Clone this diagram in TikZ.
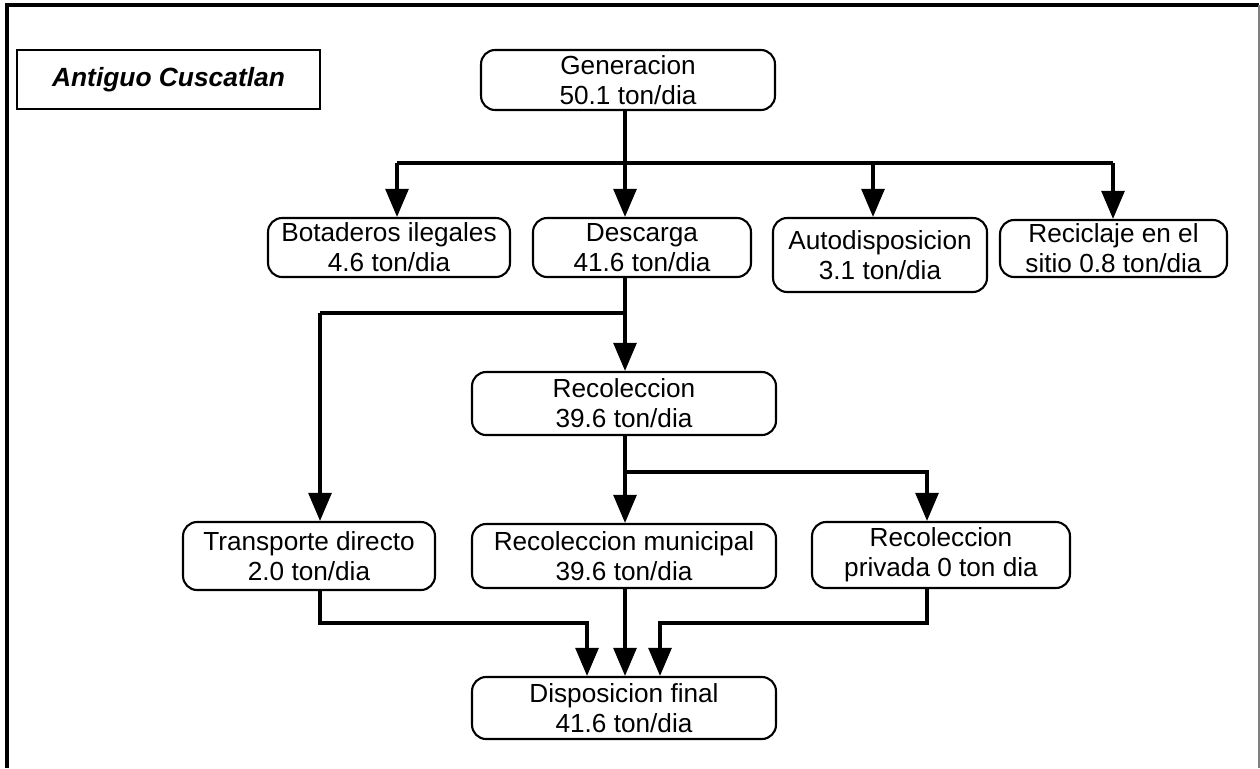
\documentclass[tikz,border=0pt]{standalone}
\usepackage{fontspec}
\setmainfont{Liberation Sans}
\usetikzlibrary{arrows.meta}

\begin{document}
\begin{tikzpicture}[x=0.02cm, y=-0.02cm, font=\fontsize{14.9}{17}\selectfont,
    blk/.style={draw, line width=1.2pt, rounded corners=8pt, inner sep=0pt, align=center},
    flow/.style={line width=2pt, -{Triangle[length=16pt, width=13pt]}},
    link/.style={line width=2pt}]
    \useasboundingbox (0,0) rectangle (1260,768);
    % frame
    \draw[line width=1.8pt] (7,768) -- (7,5) -- (1259,5);
    \draw[gray, line width=0.8pt] (1259,5) -- (1259,768);
    % title
    \node[draw, line width=1.2pt, minimum width=6.06cm, minimum height=1.18cm,
      font=\fontsize{15}{17}\selectfont\bfseries\itshape] (ttl) at (168.5,79.5) {Antiguo Cuscatlan};
    % boxes
    \node[blk, minimum width=5.88cm, minimum height=1.2cm] (gen) at (628,80) {Generacion\\50.1 ton/dia};
    \node[blk, minimum width=4.84cm, minimum height=1.18cm] (bot) at (389,247.5) {Botaderos ilegales\\4.6 ton/dia};
    \node[blk, minimum width=4.36cm, minimum height=1.18cm] (des) at (642,247.5) {Descarga\\41.6 ton/dia};
    \node[blk, minimum width=4.28cm, minimum height=1.48cm] (aut) at (880,255) {Autodisposicion\\3.1 ton/dia};
    \node[blk, minimum width=4.54cm, minimum height=1.14cm] (rcl) at (1113.5,248.5) {Reciclaje en el\\sitio 0.8 ton/dia};
    \node[blk, minimum width=6.08cm, minimum height=1.26cm] (col) at (624,403.5) {Recoleccion\\39.6 ton/dia};
    \node[blk, minimum width=5.04cm, minimum height=1.36cm] (tra) at (309,556) {Transporte directo\\2.0 ton/dia};
    \node[blk, minimum width=6.08cm, minimum height=1.28cm] (mun) at (624,556) {Recoleccion municipal\\39.6 ton/dia};
    \node[blk, minimum width=5.16cm, minimum height=1.32cm] (pri) at (941,555) {Recoleccion\\privada 0 ton dia};
    \node[blk, minimum width=6.08cm, minimum height=1.24cm] (dis) at (624,708) {Disposicion final\\41.6 ton/dia};
    % junctions
    \coordinate (b0) at (397,163); \coordinate (b1) at (625,163);
    \coordinate (b3) at (873,163); \coordinate (b4) at (1113,163);
    \coordinate (d0) at (320,313); \coordinate (d1) at (625,313);
    \coordinate (r1) at (625,472); \coordinate (r2) at (927,472);
    \coordinate (f0) at (587,623); \coordinate (f2) at (660,623);
    % connectors
    \draw[link] (gen.south -| b1) -- (b1);
    \draw[link] (b0) -- (b4);
    \foreach \c/\n in {b0/bot, b1/des, b3/aut, b4/rcl}
      \draw[flow] (\c) -- (\c |- \n.north);
    \draw[flow] (des.south -| d1) -- (col.north -| d1);
    \draw[link] (d1) -- (d0);
    \draw[flow] (d0) -- (d0 |- tra.north);
    \draw[flow] (col.south -| r1) -- (mun.north -| r1);
    \draw[flow] (r1) -| (pri.north -| r2);
    \draw[flow] (tra.south -| d0) |- (f0) -- (f0 |- dis.north);
    \draw[flow] (mun.south -| r1) -- (dis.north -| r1);
    \draw[flow] (pri.south -| r2) |- (f2) -- (f2 |- dis.north);
\end{tikzpicture}
\end{document}
